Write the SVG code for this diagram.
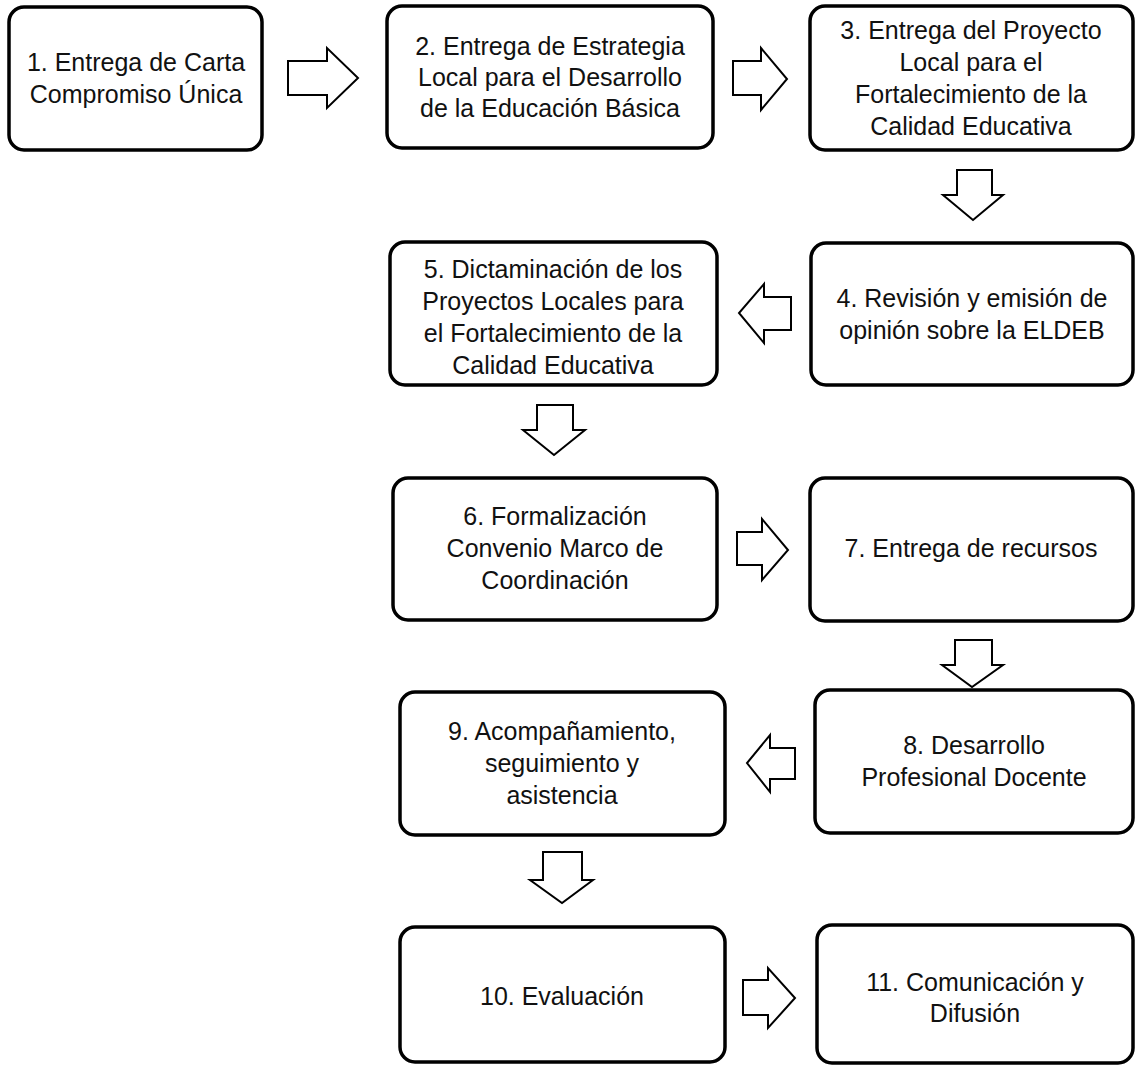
<svg xmlns="http://www.w3.org/2000/svg" width="1135" height="1066" viewBox="0 0 1135 1066">
<style>
.box{fill:#fff;stroke:#000;stroke-width:3.5}
.arr{fill:#fff;stroke:#000;stroke-width:2;stroke-linejoin:miter}
text{font-family:"Liberation Sans",Arial,sans-serif;font-size:25px;fill:#111;text-anchor:middle}
</style>
<rect width="1135" height="1066" fill="#fff"/>
<g id="connectors">
<polygon class="arr" points="288,61 327,61 327,48 358,78 327,108 327,95 288,95"/>
<polygon class="arr" points="733,61 761,61 761,48 787,79 761,110 761,95 733,95"/>
<polygon class="arr" points="957,170 992,170 992,195 1003,195 973,220 943,195 957,195"/>
<polygon class="arr" points="791,297 764,297 764,284 739,313 764,343 764,330 791,330"/>
<polygon class="arr" points="537,405 573,405 573,430 585,430 554,455 523,430 537,430"/>
<polygon class="arr" points="737,532 762,532 762,519 788,550 762,580 762,565 737,565"/>
<polygon class="arr" points="955,640 992,640 992,665 1003,665 972,687 942,665 955,665"/>
<polygon class="arr" points="795,748 770,748 770,735 747,763 770,792 770,779 795,779"/>
<polygon class="arr" points="543,852 582,852 582,880 593,880 562,903 530,880 543,880"/>
<polygon class="arr" points="743,980 768,980 768,968 795,998 768,1028 768,1015 743,1015"/>
</g>
<g id="n1"><rect class="box" x="9" y="7" width="253" height="143" rx="15"/>
<text x="136" y="71">1. Entrega de Carta</text><text x="136" y="103">Compromiso Única</text></g>
<g id="n2"><rect class="box" x="387" y="6" width="326" height="142" rx="15"/>
<text x="550" y="55">2. Entrega de Estrategia</text><text x="550" y="86">Local para el Desarrollo</text><text x="550" y="117">de la Educación Básica</text></g>
<g id="n3"><rect class="box" x="810" y="6" width="323" height="144" rx="15"/>
<text x="971" y="39">3. Entrega del Proyecto</text><text x="971" y="71">Local para el</text><text x="971" y="103">Fortalecimiento de la</text><text x="971" y="135">Calidad Educativa</text></g>
<g id="n4"><rect class="box" x="811" y="243" width="322" height="142" rx="15"/>
<text x="972" y="307">4. Revisión y emisión de</text><text x="972" y="339">opinión sobre la ELDEB</text></g>
<g id="n5"><rect class="box" x="390" y="242" width="327" height="143" rx="15"/>
<text x="553" y="278">5. Dictaminación de los</text><text x="553" y="310">Proyectos Locales para</text><text x="553" y="342">el Fortalecimiento de la</text><text x="553" y="374">Calidad Educativa</text></g>
<g id="n6"><rect class="box" x="393" y="478" width="324" height="142" rx="15"/>
<text x="555" y="525">6. Formalización</text><text x="555" y="557">Convenio Marco de</text><text x="555" y="589">Coordinación</text></g>
<g id="n7"><rect class="box" x="810" y="478" width="323" height="143" rx="15"/>
<text x="971" y="557">7. Entrega de recursos</text></g>
<g id="n8"><rect class="box" x="815" y="690" width="318" height="143" rx="15"/>
<text x="974" y="754">8. Desarrollo</text><text x="974" y="786">Profesional Docente</text></g>
<g id="n9"><rect class="box" x="400" y="692" width="325" height="143" rx="15"/>
<text x="562" y="740">9. Acompañamiento,</text><text x="562" y="772">seguimiento y</text><text x="562" y="804">asistencia</text></g>
<g id="n10"><rect class="box" x="400" y="927" width="325" height="135" rx="15"/>
<text x="562" y="1005">10. Evaluación</text></g>
<g id="n11"><rect class="box" x="817" y="925" width="316" height="138" rx="15"/>
<text x="975" y="991">11. Comunicación y</text><text x="975" y="1022">Difusión</text></g>
</svg>
